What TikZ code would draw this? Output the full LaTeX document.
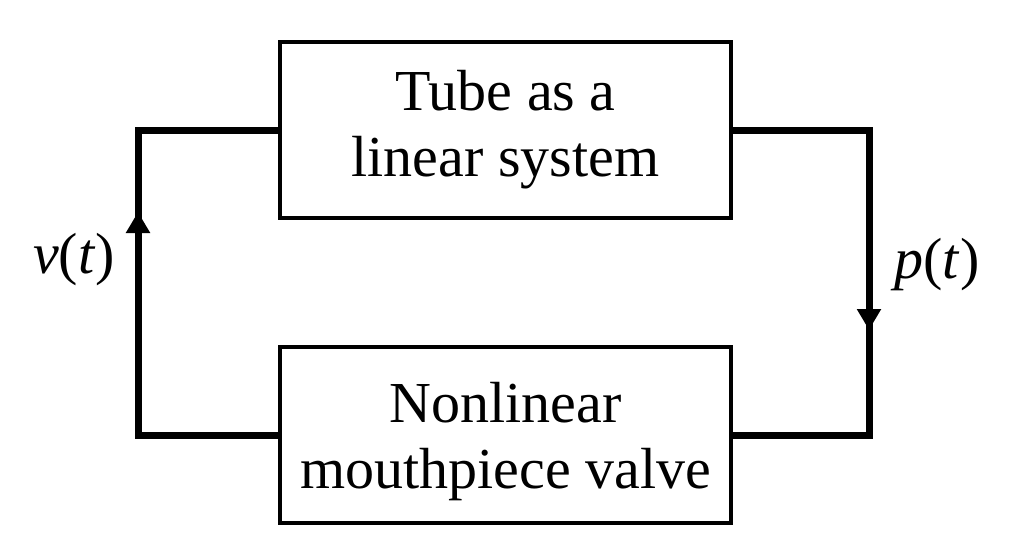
\documentclass[tikz,border=0pt]{standalone}
\usepackage{fontspec}
\setmainfont{Liberation Serif}
\usetikzlibrary{arrows.meta}
\tikzset{
  box/.style={draw, line width=4.5pt, minimum width=451pt, minimum height=176pt, inner sep=0pt, align=center, font=\fontsize{58}{66}\selectfont},
  conn/.style={line width=7pt, line join=miter},
  tipline/.style={line width=7pt, -{Triangle[length=21pt,width=23pt]}},
  lbl/.style={font=\fontsize{58}{66}\selectfont, inner sep=0pt}
}
\begin{document}
\begin{tikzpicture}[x=1pt,y=-1pt]
\useasboundingbox (0,0) rectangle (1024,554);
\node[box] (tube) at (505.5,130) {Tube as a\\linear system};
\node[box] (valve) at (505.5,435) {\rule{0pt}{53pt}Nonlinear\\mouthpiece valve};
\coordinate (lt) at (138,130);
\coordinate (lb) at (138,435);
\coordinate (rt) at (869,130);
\coordinate (rb) at (869,435);
\coordinate (la) at (138,212);
\coordinate (ra) at (869,330);
\coordinate (las) at (138,260);
\coordinate (ras) at (869,280);
\draw[conn] (valve.west) -- (lb) -- (lt) -- (tube.west);
\draw[conn] (tube.east) -- (rt) -- (rb) -- (valve.east);
\draw[tipline] (las) -- (la);
\draw[tipline] (ras) -- (ra);
\node[lbl] (v) at (74,260) {\textit{v}(\textit{t})};
\node[lbl] (p) at (937,265) {\textit{p}(\textit{t})};
\end{tikzpicture}
\end{document}
